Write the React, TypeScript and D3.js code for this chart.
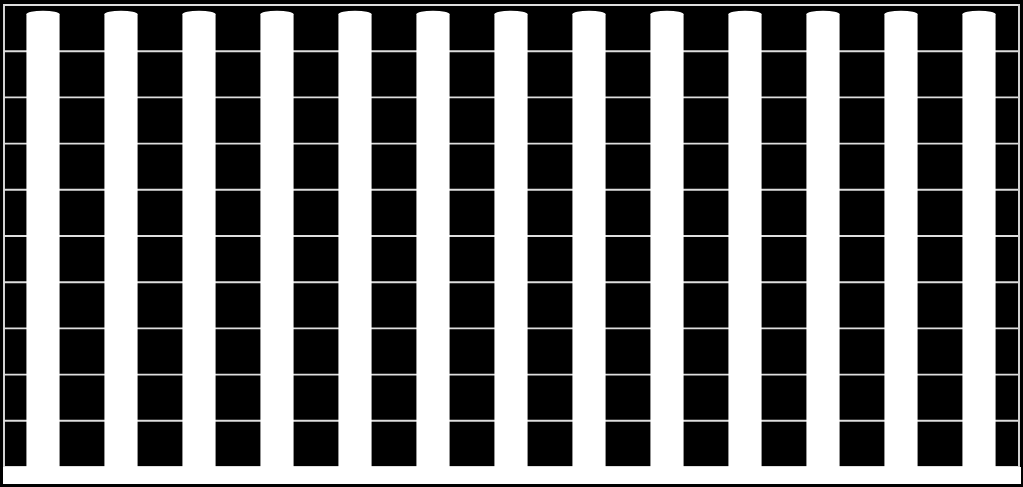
import React from "react";
import * as d3 from "d3";

const categories: string[] = ["1", "2", "3", "4", "5", "6", "7", "8", "9", "10", "11", "12", "13"];
const values: number[] = [98, 98, 98, 98, 98, 98, 98, 98, 98, 98, 98, 98, 98];
const yTicks: number[] = [0, 10, 20, 30, 40, 50, 60, 70, 80, 90, 100];

const W = 1023;
const H = 487;

export default function App() {
  const x = d3
    .scaleBand<string>()
    .domain(categories)
    .range([4, 1018])
    .paddingInner(0.575)
    .paddingOuter(0.2875);
  const y = d3.scaleLinear().domain([0, 100]).range([467, 5]);
  const bw = x.bandwidth();
  const ry = 3.5;
  const grid = "#dedede";

  return (
    <svg
      width={W}
      height={H}
      style={{ position: "absolute", left: 0, top: 0, display: "block" }}
    >
      <rect x={0} y={0} width={W} height={H} fill="#000" />
      {/* gridlines (back wall) */}
      {yTicks.map((t) => (
        <line
          key={t}
          x1={4}
          x2={1018}
          y1={y(t)}
          y2={y(t)}
          stroke={grid}
          strokeWidth={1.9}
        />
      ))}
      {/* walls border */}
      <line x1={4} x2={4} y1={4} y2={467} stroke={grid} strokeWidth={1.9} />
      <line x1={1019} x2={1019} y1={4} y2={467} stroke={grid} strokeWidth={1.9} />
      {/* floor */}
      <polygon points="3,467 1021,467 1021,484 3,484" fill="#fff" />
      {/* cylinders */}
      {categories.map((c, i) => {
        const x0 = x(c) as number;
        const top = y(values[i]);
        return (
          <g key={c}>
            <rect x={x0} y={top} width={bw} height={467 - top + 2} fill="#fff" />
            <ellipse cx={x0 + bw / 2} cy={top} rx={bw / 2} ry={ry} fill="#fff" />
          </g>
        );
      })}
    </svg>
  );
}
